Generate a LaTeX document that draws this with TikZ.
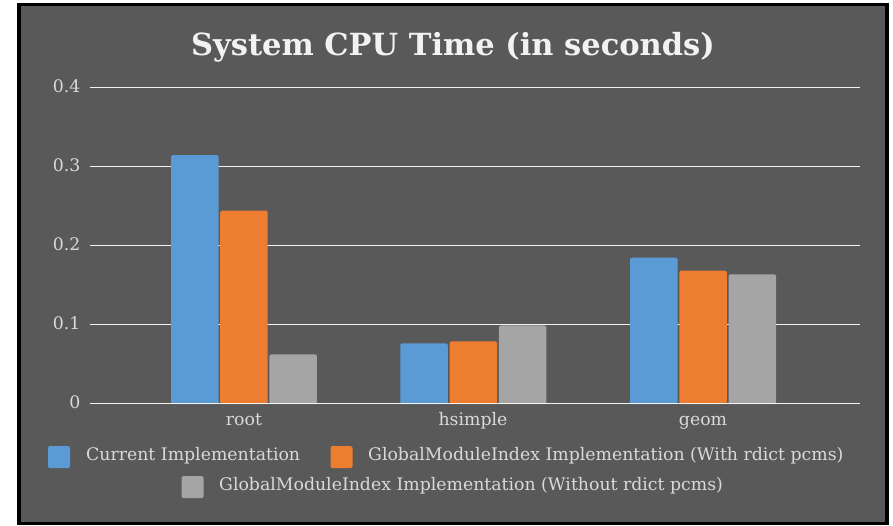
\documentclass[tikz,border=0pt]{standalone}
\usepackage{fontspec}
\setmainfont{DejaVu Serif}
\definecolor{chartbg}{HTML}{595959}
\definecolor{serA}{HTML}{5B9BD5}
\definecolor{serB}{HTML}{ED7D31}
\definecolor{serC}{HTML}{A5A5A5}
\definecolor{gridc}{HTML}{F2F2F2}
\definecolor{labc}{HTML}{D9D9D9}
% one bar: left edge, value, colour
\newcommand\chartbar[3]{%
  \pgfmathsetmacro\bartop{403.3-(#2)*790}%
  \fill[#3,rounded corners=2pt] (#1,404) rectangle ({#1+47.5},\bartop);}
\begin{document}
\begin{tikzpicture}[x=1pt,y=-1pt,
  lab/.style={text=labc,font=\fontsize{17.3}{20}\selectfont,inner sep=0pt},
  ticklab/.style={lab,anchor=base east},
  catlab/.style={lab,anchor=base},
  leglab/.style={lab,anchor=base west},
  legbox/.style={rounded corners=1.5pt,minimum size=22pt,inner sep=0pt},
  gridln/.style={draw=gridc,line width=1.6pt}]
\useasboundingbox (0,0) rectangle (893,525);
% frame
\fill[black] (17,2.5) rectangle (888.5,525);
\fill[chartbg] (20.5,5.5) rectangle (884.5,522);
% title
\node[text=gridc,font=\fontsize{30.5}{34}\selectfont\bfseries,anchor=base,inner sep=0pt] (title) at (453,55) {System CPU Time (in seconds)};
% grid and tick labels
\foreach \v/\n in {0/a,0.1/b,0.2/c,0.3/d,0.4/e}{
  \pgfmathsetmacro\gy{403.3-\v*790}
  \coordinate (gl\n) at (90,\gy);
  \coordinate (gr\n) at (860,\gy);
  \node[ticklab] (tick\n) at (80.5,\gy+5.3) {\v};
}
\foreach \n in {b,c,d,e}{\draw[gridln] (gl\n) -- (gr\n);}
% bars
\chartbar{171}{0.3143}{serA}
\chartbar{220.2}{0.2438}{serB}
\chartbar{269.4}{0.062}{serC}
\chartbar{400.3}{0.076}{serA}
\chartbar{449.6}{0.0785}{serB}
\chartbar{498.9}{0.0985}{serC}
\chartbar{630}{0.1843}{serA}
\chartbar{679.3}{0.1678}{serB}
\chartbar{728.6}{0.1633}{serC}
\draw[gridln] (gla) -- (gra);
% category labels
\node[catlab] (catroot) at (244,425) {root};
\node[catlab] (cathsimple) at (473,425) {hsimple};
\node[catlab] (catgeom) at (703,425) {geom};
% legend
\node[legbox,fill=serA] (keyA) at (59,457) {};
\node[leglab] (legA) at (86,460) {Current Implementation};
\node[legbox,fill=serB] (keyB) at (341.5,457) {};
\node[leglab] (legB) at (368,460) {GlobalModuleIndex Implementation (With rdict pcms)};
\node[legbox,fill=serC] (keyC) at (192.5,487) {};
\node[leglab] (legC) at (219,490) {GlobalModuleIndex Implementation (Without rdict pcms)};
\end{tikzpicture}
\end{document}
